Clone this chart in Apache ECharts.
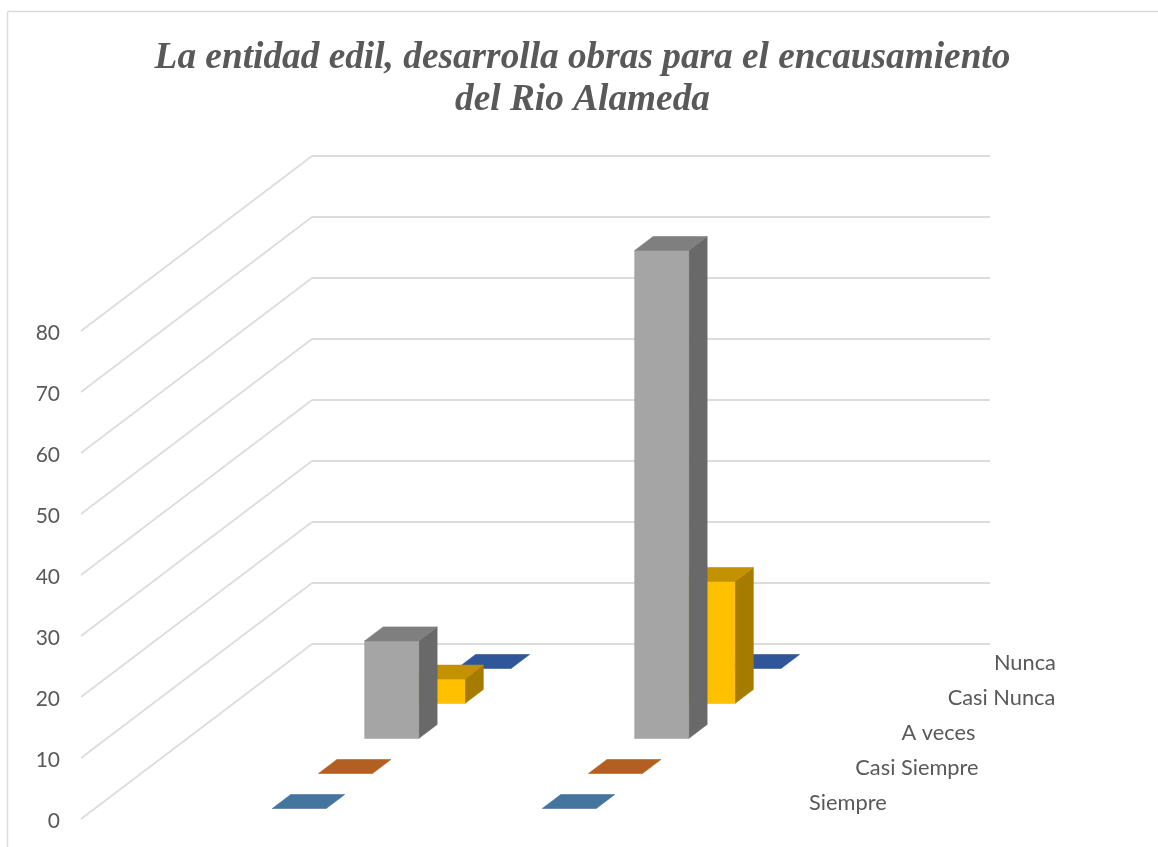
<!DOCTYPE html>
<html>
<head>
<meta charset="utf-8">
<style>html,body{margin:0;padding:0;background:#fff}#c{width:1158px;height:847px}</style>
<script src="https://cdn.jsdelivr.net/npm/echarts@6/dist/echarts.min.js"></script>
</head>
<body>
<div id="c"></div>
<script>
// Data
const titleText = 'La entidad edil, desarrolla obras para el encausamiento\ndel Rio Alameda';
const seriesNames = ['Siempre', 'Casi Siempre', 'A veces', 'Casi Nunca', 'Nunca'];
const groups = [0, 1];
const siempre = [0, 0];
const casiSiempre = [0, 0];
const aVeces = [16, 80];
const casiNunca = [4, 20];
const nunca = [0, 0];
const yTicks = [0, 10, 20, 30, 40, 50, 60, 70, 80];
const seriesValues = [siempre, casiSiempre, aVeces, casiNunca, nunca];

// Faces: front, top, side
const faceColors = [
  ['#4a7ba6', '#44759f', '#3a6388'],
  ['#b55e20', '#b45f22', '#8f4a18'],
  ['#a5a5a5', '#7f7f7f', '#696969'],
  ['#ffc000', '#c29200', '#a67c00'],
  ['#2f5597', '#30569a', '#264478']
];

// Oblique projection of the chart's depth axis
const DEPTH_X = 231, DEPTH_Y = 175, SLOTS = seriesNames.length;
const BAR_HALF_WIDTH = 0.1, BAR_HALF_DEPTH = 0.04;
const X_MIN = -0.757, X_MAX = 1.754;
const GRID_COLOR = '#dcdcdc';
const TEXT_COLOR = '#595959';
const LABEL_FONT = 'Lato, "Open Sans", sans-serif';

function project(api, x, v, t) {
  const p = api.coord([x, v]);
  return [p[0] + DEPTH_X * t, p[1] - DEPTH_Y * t];
}

function wallRender(params, api) {
  const v = api.value(0);
  const front = project(api, X_MIN, v, 0);
  const corner = project(api, X_MIN, v, 1);
  const end = project(api, X_MAX, v, 1);
  return {
    type: 'group',
    silent: true,
    children: [
      { type: 'line', shape: { x1: front[0], y1: front[1], x2: corner[0], y2: corner[1] },
        style: { stroke: GRID_COLOR, lineWidth: 1.6, fill: null } },
      { type: 'line', shape: { x1: corner[0], y1: corner[1], x2: end[0], y2: end[1] },
        style: { stroke: GRID_COLOR, lineWidth: 2, fill: null } }
    ]
  };
}

function barRender(slot) {
  return function (params, api) {
    const x = api.value(0), v = api.value(1);
    const center = (slot + 0.5) / SLOTS;
    const t0 = center - BAR_HALF_DEPTH, t1 = center + BAR_HALF_DEPTH;
    const x0 = x - BAR_HALF_WIDTH, x1 = x + BAR_HALF_WIDTH;
    const c = faceColors[slot];
    const face = (pts, fill) => ({
      type: 'polygon',
      shape: { points: pts },
      style: { fill: fill, stroke: fill, lineWidth: 0.6 }
    });
    const children = [];
    if (v > 0) {
      children.push(face([
        project(api, x1, 0, t0), project(api, x1, 0, t1),
        project(api, x1, v, t1), project(api, x1, v, t0)], c[2]));
      children.push(face([
        project(api, x0, 0, t0), project(api, x1, 0, t0),
        project(api, x1, v, t0), project(api, x0, v, t0)], c[0]));
    }
    children.push(face([
      project(api, x0, v, t0), project(api, x1, v, t0),
      project(api, x1, v, t1), project(api, x0, v, t1)], c[1]));
    return { type: 'group', children: children };
  };
}

function depthLabelRender(params, api) {
  const slot = api.value(0);
  const p = project(api, X_MAX, 0, (slot + 0.5) / SLOTS);
  return {
    type: 'text',
    silent: true,
    x: p[0] + 27,
    y: p[1] + 1,
    style: {
      text: seriesNames[slot],
      fill: TEXT_COLOR,
      font: '21.8px ' + LABEL_FONT,
      textAlign: 'left',
      textVerticalAlign: 'middle'
    }
  };
}

const series = [
  {
    type: 'custom', name: 'wall', renderItem: wallRender, clip: false, silent: true,
    encode: { x: -1, y: 0 },
    data: yTicks.map(v => [v])
  }
];
for (let s = SLOTS - 1; s >= 0; s--) {
  series.push({
    type: 'custom',
    name: seriesNames[s],
    renderItem: barRender(s),
    clip: false,
    encode: { x: 0, y: 1 },
    data: groups.map((g, i) => [g, seriesValues[s][i]])
  });
}
series.push({
  type: 'custom', name: 'depthLabels', renderItem: depthLabelRender, clip: false, silent: true,
  encode: { x: -1, y: -1 },
  data: seriesNames.map((n, i) => [i])
});

const chart = echarts.init(document.getElementById('c'));
chart.setOption({
  animation: false,
  backgroundColor: '#fff',
  title: {
    text: titleText,
    left: 577.5,
    top: 32,
    textAlign: 'center',
    textStyle: {
      fontFamily: '"Liberation Serif", serif',
      fontStyle: 'italic',
      fontWeight: 'bold',
      fontSize: 37.3,
      lineHeight: 42,
      color: TEXT_COLOR
    }
  },
  grid: { left: 81, top: 331, width: 678, height: 488, containLabel: false },
  xAxis: { type: 'value', min: X_MIN, max: X_MAX, show: false },
  yAxis: {
    type: 'value', min: 0, max: 80, interval: 10,
    axisLine: { show: false }, axisTick: { show: false }, splitLine: { show: false },
    axisLabel: {
      margin: 21,
      formatter: '{a|{value}}',
      rich: { a: { color: TEXT_COLOR, fontFamily: 'Lato, "Open Sans", sans-serif', fontSize: 21, padding: [5, 0, 0, 0] } }
    }
  },
  graphic: [
    { type: 'line', silent: true, shape: { x1: 7.5, y1: 11.5, x2: 7.5, y2: 847 }, style: { stroke: GRID_COLOR, lineWidth: 1.5 } },
    { type: 'line', silent: true, shape: { x1: 7.5, y1: 11.5, x2: 1158, y2: 11.5 }, style: { stroke: GRID_COLOR, lineWidth: 1.5 } }
  ],
  series: series
});
</script>
</body>
</html>
